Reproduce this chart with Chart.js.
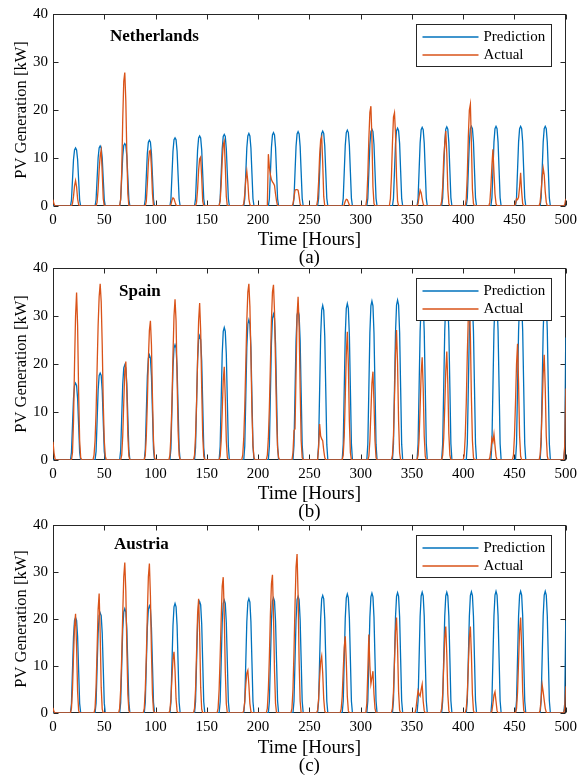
<!DOCTYPE html>
<html>
<head>
<meta charset="utf-8">
<script src="https://cdn.jsdelivr.net/npm/chart.js"></script>
<style>
  html, body { margin: 0; padding: 0; background: #fff; }
  body { width: 582px; height: 778px; position: relative; overflow: hidden; }
  canvas { position: absolute; left: 0; }
</style>
</head>
<body>
<canvas id="nl" width="582" height="267" style="top:0px"></canvas>
<canvas id="es" width="582" height="267" style="top:254px"></canvas>
<canvas id="at" width="582" height="264" style="top:511px"></canvas>
<script>
// each pulse: [first hour, hourly values...]; hours outside the pulses are 0
const nlPred = [
  [18, 1.2, 5.4, 9.7, 11.7, 12.1, 11.7, 9.7, 5.4, 1.2],
  [42, 1.3, 5.6, 10.0, 12.1, 12.5, 12.1, 10.0, 5.6, 1.3],
  [66, 1.3, 5.9, 10.4, 12.6, 13.0, 12.6, 10.4, 5.9, 1.3],
  [90, 1.4, 6.2, 11.0, 13.3, 13.7, 13.3, 11.0, 6.2, 1.4],
  [115, 1.4, 6.4, 11.4, 13.8, 14.2, 13.8, 11.4, 6.4, 1.4],
  [139, 1.5, 6.6, 11.7, 14.2, 14.6, 14.2, 11.7, 6.6, 1.5],
  [163, 1.5, 6.7, 11.9, 14.5, 14.9, 14.5, 11.9, 6.7, 1.5],
  [187, 1.5, 6.8, 12.1, 14.6, 15.1, 14.6, 12.1, 6.8, 1.5],
  [211, 1.5, 6.9, 12.2, 14.8, 15.3, 14.8, 12.2, 6.9, 1.5],
  [235, 1.6, 7.0, 12.4, 15.0, 15.5, 15.0, 12.4, 7.0, 1.6],
  [259, 1.6, 7.0, 12.5, 15.1, 15.6, 15.1, 12.5, 7.0, 1.6],
  [283, 1.6, 7.1, 12.6, 15.3, 15.8, 15.3, 12.6, 7.1, 1.6],
  [307, 1.6, 7.2, 12.8, 15.5, 16.0, 15.5, 12.8, 7.2, 1.6],
  [332, 1.6, 7.3, 13.0, 15.7, 16.2, 15.7, 13.0, 7.3, 1.6],
  [356, 1.6, 7.4, 13.1, 15.9, 16.4, 15.9, 13.1, 7.4, 1.6],
  [380, 1.7, 7.4, 13.2, 16.0, 16.5, 16.0, 13.2, 7.4, 1.7],
  [404, 1.7, 7.5, 13.3, 16.1, 16.6, 16.1, 13.3, 7.5, 1.7],
  [428, 1.7, 7.5, 13.3, 16.1, 16.6, 16.1, 13.3, 7.5, 1.7],
  [452, 1.7, 7.5, 13.3, 16.1, 16.6, 16.1, 13.3, 7.5, 1.7],
  [476, 1.7, 7.5, 13.3, 16.1, 16.6, 16.1, 13.3, 7.5, 1.7]
];
const nlActual = [
  [0, 1.3, 0.4],
  [19, 0.5, 2.0, 4.2, 5.3, 4.0, 1.5, 0.3],
  [43, 0.8, 3.5, 7.5, 10.5, 11.6, 7.0, 1.5],
  [66, 1.5, 7.0, 18.0, 26.0, 27.8, 22.0, 11.0, 2.5],
  [91, 1.0, 4.5, 9.0, 11.4, 11.6, 8.0, 2.5],
  [115, 0.3, 1.2, 1.7, 1.5, 0.8, 0.2],
  [140, 0.8, 3.5, 7.5, 9.8, 10.2, 6.0, 1.0],
  [163, 1.0, 4.5, 9.5, 12.8, 13.5, 8.5, 2.0],
  [186, 0.5, 2.5, 5.5, 7.2, 5.0, 1.5, 0.3],
  [210, 10.8, 8.0, 6.5, 5.5, 5.0, 4.7, 4.3, 2.5, 1.0],
  [234, 0.4, 1.8, 3.3, 3.4, 3.4, 3.3, 2.0, 0.4],
  [258, 1.2, 5.0, 10.5, 13.8, 14.4, 9.0, 2.0],
  [284, 0.3, 1.0, 1.4, 1.3, 0.8, 0.2],
  [306, 1.5, 6.5, 14.0, 19.5, 20.8, 14.0, 4.0, 0.5],
  [329, 1.5, 6.0, 13.0, 18.5, 19.4, 15.0, 6.0, 1.0],
  [356, 0.5, 2.0, 3.3, 2.8, 1.5, 0.4],
  [379, 1.0, 4.0, 10.0, 12.8, 15.6, 11.0, 3.5, 0.5],
  [403, 1.5, 6.5, 14.5, 20.0, 21.2, 13.0, 3.5, 0.5],
  [426, 0.8, 4.0, 8.5, 11.8, 7.0, 2.5, 0.5],
  [451, 0.5, 1.5, 1.3, 1.8, 4.0, 6.9, 3.0, 0.5],
  [475, 0.8, 3.0, 6.0, 7.9, 6.5, 3.0, 0.8],
  [499, 0.3, 1.5]
];
const esPred = [
  [18, 1.6, 7.2, 12.8, 15.5, 16.0, 15.5, 12.8, 7.2, 1.6],
  [42, 1.8, 8.1, 14.5, 17.6, 18.1, 17.6, 14.5, 8.1, 1.8],
  [66, 2.0, 8.9, 15.8, 19.2, 19.8, 19.2, 15.8, 8.9, 2.0],
  [90, 2.2, 9.9, 17.5, 21.2, 21.9, 21.2, 17.5, 9.9, 2.2],
  [115, 2.4, 10.8, 19.2, 23.3, 24.0, 23.3, 19.2, 10.8, 2.4],
  [139, 2.6, 11.7, 20.7, 25.1, 25.9, 25.1, 20.7, 11.7, 2.6],
  [163, 2.8, 12.4, 22.1, 26.8, 27.6, 26.8, 22.1, 12.4, 2.8],
  [187, 2.9, 13.1, 23.4, 28.3, 29.2, 28.3, 23.4, 13.1, 2.9],
  [211, 3.0, 13.7, 24.3, 29.5, 30.4, 29.5, 24.3, 13.7, 3.0],
  [235, 3.1, 14.0, 24.9, 30.2, 31.1, 30.2, 24.9, 14.0, 3.1],
  [259, 3.2, 14.5, 25.8, 31.2, 32.2, 31.2, 25.8, 14.5, 3.2],
  [283, 3.3, 14.7, 26.1, 31.6, 32.6, 31.6, 26.1, 14.7, 3.3],
  [307, 3.3, 14.9, 26.5, 32.1, 33.1, 32.1, 26.5, 14.9, 3.3],
  [332, 3.3, 15.0, 26.6, 32.3, 33.3, 32.3, 26.6, 15.0, 3.3],
  [356, 3.4, 15.1, 26.8, 32.5, 33.5, 32.5, 26.8, 15.1, 3.4],
  [380, 3.4, 15.1, 26.9, 32.6, 33.6, 32.6, 26.9, 15.1, 3.4],
  [404, 3.4, 15.1, 26.9, 32.6, 33.6, 32.6, 26.9, 15.1, 3.4],
  [428, 3.4, 15.2, 27.0, 32.7, 33.7, 32.7, 27.0, 15.2, 3.4],
  [452, 3.4, 15.2, 27.0, 32.7, 33.7, 32.7, 27.0, 15.2, 3.4],
  [476, 3.4, 15.2, 27.0, 32.8, 33.8, 32.8, 27.0, 15.2, 3.4],
  [499, 2.5, 25.5]
];
const esActual = [
  [0, 3.8, 1.5, 0.2],
  [19, 1.5, 8.0, 20.0, 30.0, 34.9, 28.0, 14.0, 4.0, 0.5],
  [40, 1.0, 4.0, 10.0, 19.0, 28.0, 34.0, 36.7, 33.0, 24.0, 12.0, 4.0, 0.8],
  [67, 1.0, 5.0, 12.0, 18.5, 20.5, 14.0, 5.0, 0.8],
  [90, 1.0, 5.0, 12.0, 21.0, 27.0, 29.0, 24.0, 13.0, 4.0, 0.5],
  [114, 1.0, 5.0, 12.0, 22.0, 30.0, 33.5, 29.0, 17.0, 6.0, 1.0],
  [138, 1.0, 5.0, 12.0, 21.0, 29.0, 32.7, 27.0, 15.0, 5.0, 0.8],
  [163, 0.8, 4.0, 10.0, 16.5, 19.4, 13.0, 4.0, 0.5],
  [185, 1.0, 4.5, 11.0, 20.0, 29.0, 35.0, 36.7, 32.0, 22.0, 10.0, 3.0, 0.5],
  [209, 1.0, 4.5, 11.0, 20.0, 29.0, 35.0, 36.5, 31.0, 20.0, 9.0, 2.5, 0.5],
  [234, 1.5, 6.1, 6.5, 18.0, 30.0, 34.0, 28.0, 15.0, 4.0, 0.5],
  [259, 2.5, 7.5, 5.0, 4.4, 4.0, 2.0, 0.5],
  [283, 1.0, 5.0, 13.0, 22.0, 26.7, 20.0, 8.0, 1.5],
  [308, 0.8, 4.0, 10.0, 16.0, 18.4, 12.0, 4.0, 0.5],
  [331, 1.0, 5.0, 13.0, 22.0, 27.1, 20.0, 8.0, 1.5],
  [356, 1.0, 4.5, 11.0, 18.0, 21.4, 15.0, 5.0, 0.8],
  [380, 1.0, 4.5, 11.0, 18.5, 22.6, 16.0, 5.5, 1.0],
  [401, 1.0, 5.0, 12.0, 22.0, 30.0, 33.0, 26.0, 13.0, 4.0, 0.5],
  [426, 0.5, 2.0, 4.5, 3.8, 5.4, 3.0, 0.8],
  [449, 1.0, 5.0, 12.0, 20.0, 24.2, 16.0, 5.0, 0.8],
  [475, 1.0, 4.5, 11.0, 18.0, 21.9, 15.0, 5.0, 0.8],
  [499, 3.0, 14.9]
];
const atPred = [
  [18, 2.0, 9.1, 16.2, 19.7, 20.3, 19.7, 16.2, 9.1, 2.0],
  [42, 2.1, 9.6, 17.0, 20.7, 21.3, 20.7, 17.0, 9.6, 2.1],
  [66, 2.2, 10.0, 17.8, 21.5, 22.2, 21.5, 17.8, 10.0, 2.2],
  [90, 2.3, 10.3, 18.2, 22.1, 22.8, 22.1, 18.2, 10.3, 2.3],
  [115, 2.3, 10.5, 18.6, 22.6, 23.3, 22.6, 18.6, 10.5, 2.3],
  [139, 2.4, 10.7, 19.0, 23.0, 23.7, 23.0, 19.0, 10.7, 2.4],
  [163, 2.4, 10.8, 19.2, 23.3, 24.0, 23.3, 19.2, 10.8, 2.4],
  [187, 2.4, 10.9, 19.4, 23.6, 24.3, 23.6, 19.4, 10.9, 2.4],
  [211, 2.5, 11.0, 19.6, 23.8, 24.5, 23.8, 19.6, 11.0, 2.5],
  [235, 2.5, 11.2, 19.8, 24.1, 24.8, 24.1, 19.8, 11.2, 2.5],
  [259, 2.5, 11.3, 20.0, 24.3, 25.0, 24.3, 20.0, 11.3, 2.5],
  [283, 2.5, 11.4, 20.2, 24.5, 25.3, 24.5, 20.2, 11.4, 2.5],
  [307, 2.6, 11.5, 20.4, 24.7, 25.5, 24.7, 20.4, 11.5, 2.6],
  [332, 2.6, 11.5, 20.5, 24.8, 25.6, 24.8, 20.5, 11.5, 2.6],
  [356, 2.6, 11.6, 20.6, 24.9, 25.7, 24.9, 20.6, 11.6, 2.6],
  [380, 2.6, 11.6, 20.6, 24.9, 25.7, 24.9, 20.6, 11.6, 2.6],
  [404, 2.6, 11.6, 20.6, 25.0, 25.8, 25.0, 20.6, 11.6, 2.6],
  [428, 2.6, 11.7, 20.7, 25.1, 25.9, 25.1, 20.7, 11.7, 2.6],
  [452, 2.6, 11.7, 20.7, 25.1, 25.9, 25.1, 20.7, 11.7, 2.6],
  [476, 2.6, 11.7, 20.7, 25.1, 25.9, 25.1, 20.7, 11.7, 2.6],
  [499, 2.0, 19.7]
];
const atActual = [
  [0, 1.1, 0.3],
  [18, 1.0, 5.0, 12.0, 18.5, 21.1, 14.0, 4.5, 0.5],
  [41, 1.0, 5.5, 13.5, 22.0, 25.4, 17.0, 5.5, 0.8],
  [65, 1.0, 5.0, 12.0, 21.0, 29.0, 32.0, 26.0, 14.0, 4.0, 0.5],
  [89, 1.0, 5.0, 12.0, 21.0, 29.0, 31.8, 25.0, 13.0, 4.0, 0.5],
  [114, 0.6, 3.0, 7.5, 11.5, 13.0, 9.0, 3.0, 0.4],
  [138, 1.0, 5.0, 13.0, 21.0, 24.3, 17.0, 5.5, 0.8],
  [161, 1.0, 5.0, 12.0, 20.0, 27.0, 28.9, 21.0, 9.0, 2.0],
  [186, 0.5, 2.5, 6.0, 8.5, 9.1, 6.0, 2.0, 0.3],
  [209, 1.0, 5.0, 12.0, 21.0, 27.5, 29.4, 21.0, 9.0, 2.0],
  [233, 1.0, 5.0, 13.0, 23.0, 31.0, 33.8, 25.0, 11.0, 2.5],
  [258, 0.6, 3.0, 7.5, 11.0, 12.1, 8.5, 3.0, 0.4],
  [281, 0.8, 3.5, 9.0, 14.0, 16.3, 11.0, 3.5, 0.5],
  [306, 2.0, 9.0, 16.7, 10.0, 6.2, 7.5, 8.9, 4.0, 1.0],
  [331, 1.0, 4.5, 11.0, 17.5, 20.3, 14.0, 4.5, 0.6],
  [354, 1.0, 3.0, 4.7, 4.0, 3.6, 5.0, 6.1, 2.5, 0.5],
  [379, 1.0, 4.0, 10.0, 16.0, 18.4, 12.5, 4.0, 0.5],
  [403, 1.0, 4.0, 10.0, 16.0, 18.4, 12.5, 4.0, 0.5],
  [428, 0.4, 2.0, 3.8, 4.5, 2.5, 0.5],
  [452, 1.0, 4.5, 11.0, 17.5, 20.3, 14.0, 4.5, 0.6],
  [475, 0.6, 3.0, 6.0, 4.5, 2.7, 1.0, 0.2],
  [499, 1.0, 5.7]
];
const seriesNames = ['Prediction', 'Actual'];
const countries = ['Netherlands', 'Spain', 'Austria'];
const subLabels = ['(a)', '(b)', '(c)'];

const BLUE = '#0072BD', ORANGE = '#D95319', INK = '#262626';
const SERIES_COLORS = [BLUE, ORANGE];
const SERIF = "'Liberation Serif', 'Times New Roman', serif";
Chart.defaults.font.family = SERIF;
Chart.defaults.color = INK;

// hourly pulses -> {x, y} points with zero baseline between them
function toPoints(pulses) {
  const pts = [];
  let last = -1;
  pulses.forEach(p => {
    const start = p[0], vals = p.slice(1);
    if (pts.length === 0 && start > 1) pts.push({ x: 0, y: 0 });
    if (start > 0 && start - 1 > last) pts.push({ x: start - 1, y: 0 });
    vals.forEach((v, i) => pts.push({ x: start + i, y: v }));
    last = start + vals.length - 1;
    if (last < 500) { pts.push({ x: last + 1, y: 0 }); last += 1; }
  });
  if (last < 500) pts.push({ x: 500, y: 0 });
  return pts;
}

// MATLAB-like box with inward ticks, plus country name and legend
const panelDecor = {
  id: 'panelDecor',
  beforeDatasetsDraw(chart) {
    const { ctx, chartArea: a, scales: { x, y } } = chart;
    ctx.save();
    ctx.strokeStyle = INK;
    ctx.lineWidth = 1;
    const L = Math.round(a.left) + 0.5, R = Math.round(a.right) - 0.5;
    const T = Math.round(a.top) + 0.5, B = Math.round(a.bottom) - 0.5;
    ctx.strokeRect(L, T, R - L, B - T);
    ctx.beginPath();
    x.ticks.forEach(t => {
      const px = Math.round(x.getPixelForValue(t.value)) + 0.5;
      ctx.moveTo(px, B); ctx.lineTo(px, B - 5);
      ctx.moveTo(px, T); ctx.lineTo(px, T + 5);
    });
    y.ticks.forEach(t => {
      const py = Math.round(y.getPixelForValue(t.value)) + 0.5;
      ctx.moveTo(L, py); ctx.lineTo(L + 5, py);
      ctx.moveTo(R, py); ctx.lineTo(R - 5, py);
    });
    ctx.stroke();
    ctx.restore();
  },
  afterDatasetsDraw(chart, args, opts) {
    const { ctx, chartArea: a } = chart;
    ctx.save();
    // country name
    ctx.font = 'bold 17px ' + SERIF;
    ctx.fillStyle = '#000';
    ctx.textBaseline = 'middle';
    ctx.textAlign = 'left';
    ctx.fillText(opts.name, a.left + opts.nameDx, a.top + opts.nameDy);
    // legend
    const w = 135, h = 42;
    const lx = Math.round(a.right - 15 - w) + 0.5, ly = Math.round(a.top + 10) + 0.5;
    ctx.fillStyle = '#fff';
    ctx.fillRect(lx, ly, w, h);
    ctx.strokeStyle = INK;
    ctx.lineWidth = 1;
    ctx.strokeRect(lx, ly, w, h);
    ctx.font = '15px ' + SERIF;
    seriesNames.forEach((name, i) => {
      const ry = Math.round(ly + 12 + i * 18);
      ctx.strokeStyle = SERIES_COLORS[i];
      ctx.lineWidth = 1.6;
      ctx.beginPath();
      ctx.moveTo(lx + 6, ry); ctx.lineTo(lx + 62, ry);
      ctx.stroke();
      ctx.fillStyle = '#000';
      ctx.fillText(name, lx + 67, ry);
    });
    ctx.restore();
  }
};

function makePanel(id, idx, pred, actual, xHeight, nameDx, nameDy) {
  new Chart(document.getElementById(id), {
    type: 'line',
    data: {
      datasets: [
        { label: seriesNames[0], data: toPoints(pred), borderColor: BLUE, borderWidth: 1.3, order: 1 },
        { label: seriesNames[1], data: toPoints(actual), borderColor: ORANGE, borderWidth: 1.3, order: 0 }
      ]
    },
    options: {
      responsive: false,
      animation: false,
      elements: { point: { radius: 0 }, line: { tension: 0 } },
      layout: { padding: { top: 14, right: 13, left: 0, bottom: 0 } },
      plugins: {
        legend: { display: false },
        tooltip: { enabled: false },
        panelDecor: { name: countries[idx], nameDx: nameDx, nameDy: nameDy }
      },
      scales: {
        x: {
          type: 'linear', min: 0, max: 500,
          grid: { display: false, drawTicks: false },
          border: { display: false },
          ticks: { stepSize: 50, autoSkip: false, maxRotation: 0, padding: 5, color: '#000', font: { size: 15 } },
          title: { display: true, text: ['Time [Hours]', subLabels[idx]], color: '#000', padding: 0, font: { size: 19, lineHeight: 0.963 } },
          afterFit(s) { s.height = xHeight; }
        },
        y: {
          type: 'linear', min: 0, max: 40,
          grid: { display: false, drawTicks: false },
          border: { display: false },
          ticks: { stepSize: 10, padding: 5, color: '#000', font: { size: 15 } },
          title: { display: true, text: 'PV Generation [kW]', color: '#000', padding: { top: 13, bottom: 0 }, font: { size: 16.5, lineHeight: 1 } },
          afterFit(s) { s.width = 53; }
        }
      }
    },
    plugins: [panelDecor]
  });
}

makePanel('nl', 0, nlPred, nlActual, 61, 57, 23);
makePanel('es', 1, esPred, esActual, 61, 66, 24);
makePanel('at', 2, atPred, atActual, 62, 61, 20);
</script>
</body>
</html>
